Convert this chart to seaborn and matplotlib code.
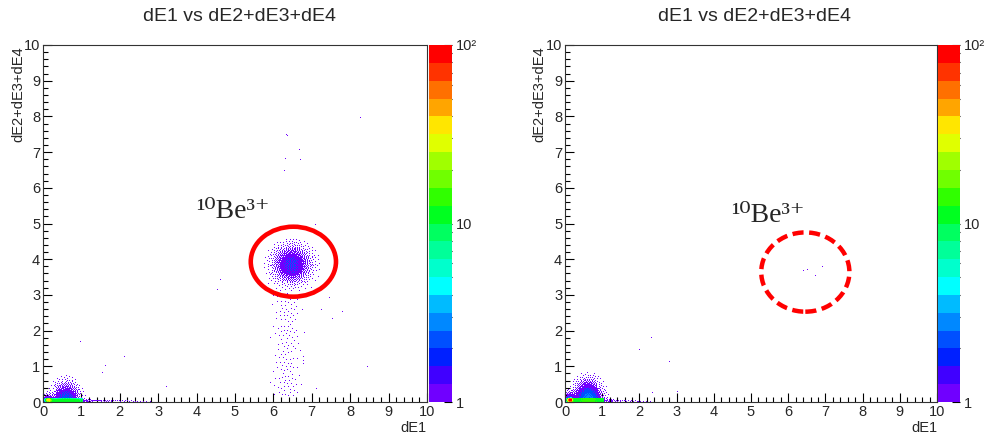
import math
import numpy as np
import pandas as pd
import matplotlib
matplotlib.use("Agg")
import matplotlib.pyplot as plt
import seaborn as sns
from matplotlib.colors import ListedColormap, LogNorm
from matplotlib.patches import Ellipse
from matplotlib.ticker import MultipleLocator, FixedLocator, FixedFormatter, NullFormatter

sns.set_theme(style="white")
plt.rcParams["font.family"] = ["Liberation Sans", "DejaVu Sans"]

# ---------------- text ----------------
TITLE = "dE1 vs dE2+dE3+dE4"
X_LABEL = "dE1"
Y_LABEL = "dE2+dE3+dE4"
ANNOT = "¹⁰Be³⁺"
CBAR_TICKS = [1, 10, 100]
CBAR_LABELS = ["1", "10", "10²"]

# ROOT palette (20 contour levels, bottom -> top)
PALETTE = ["#7000ff", "#4000ff", "#0020ff", "#0050ff", "#0088ff", "#00bbff",
           "#00ffff", "#00ffcc", "#00ff99", "#00ff60", "#00ff20", "#30ff00",
           "#70ff00", "#a0ff00", "#e0ff00", "#ffe600", "#ffa500", "#ff7000",
           "#ff3300", "#ff0000"]

# histogram binning (0..10 in 400 bins, as in the picture)
N_BINS = 400
RANGE = (0.0, 10.0)

# ---------------- event clusters ----------------
# kind, centre/origin x, centre/origin y, spread x, spread y, number of events
left_kind = ["gauss", "strip", "half", "box", "gauss", "half", "exp"]
left_cx = [6.48, 6.35, 0.60, 0.15, 0.13, 0.12, 1.05]
left_cy = [3.85, 0.10, 0.00, 0.00, 0.05, 0.00, 0.00]
left_sx = [0.27, 0.20, 0.19, 0.90, 0.04, 0.09, 1.00]
left_sy = [0.29, 2.90, 0.28, 0.09, 0.03, 0.10, 0.06]
left_n = [1200, 170, 600, 1200, 500, 120, 70]

# isolated single events (dE1, dE2+dE3+dE4)
left_out_x = [8.26, 6.69, 6.33, 6.36, 6.69, 6.68, 6.32, 6.72, 6.48, 6.30, 4.61, 4.54,
              4.24, 1.79, 0.99, 2.11, 1.64, 1.53, 3.22, 8.43, 8.46, 7.45, 7.50, 7.73,
              7.78, 7.54, 7.26, 7.08, 7.11, 6.78, 6.78]
left_out_y = [7.95, 7.80, 7.48, 7.45, 7.34, 7.06, 6.82, 6.80, 6.64, 6.48, 3.44, 3.16,
              2.44, 2.22, 1.69, 1.25, 1.01, 0.85, 0.43, 1.57, 0.99, 2.94, 2.92, 2.67,
              2.53, 2.34, 2.58, 4.96, 0.38, 1.26, 1.16]

right_kind = ["half", "box", "gauss", "half", "exp"]
right_cx = [0.62, 0.15, 0.13, 0.12, 1.05]
right_cy = [0.00, 0.00, 0.05, 0.00, 0.00]
right_sx = [0.20, 0.90, 0.04, 0.09, 0.80]
right_sy = [0.30, 0.10, 0.03, 0.13, 0.06]
right_n = [1000, 1500, 1400, 180, 45]

right_out_x = [2.31, 2.33, 2.02, 2.82, 2.28, 6.41, 6.51, 6.90, 6.74, 0.91, 3.00, 2.37]
right_out_y = [2.16, 1.82, 1.46, 1.13, 0.82, 3.68, 3.72, 3.79, 3.53, 0.71, 0.29, 0.25]


# ---------------- expected bin contents -> integer counts ----------------
EDGES = np.linspace(RANGE[0], RANGE[1], N_BINS + 1)
CENTERS = 0.5 * (EDGES[:-1] + EDGES[1:])
_erf = np.vectorize(math.erf)


def cdf(kind, c, s, e):
    if kind == "gauss":
        return 0.5 * (1.0 + _erf((e - c) / (s * math.sqrt(2.0))))
    if kind == "half":
        return np.where(e > c, _erf(np.maximum(e - c, 0) / (s * math.sqrt(2.0))), 0.0)
    if kind == "uniform":
        return np.clip((e - c) / s, 0.0, 1.0)
    if kind == "exp":
        return np.where(e > c, 1.0 - np.exp(-np.maximum(e - c, 0) / s), 0.0)
    raise ValueError(kind)


AXIS_KINDS = {"gauss": ("gauss", "gauss"), "half": ("gauss", "half"),
              "box": ("uniform", "uniform"), "strip": ("gauss", "uniform"),
              "exp": ("exp", "uniform")}


def expected_grid(kinds, cxs, cys, sxs, sys_, ns):
    grid = np.zeros((N_BINS, N_BINS))
    for kd, cx, cy, sx, sy, n in zip(kinds, cxs, cys, sxs, sys_, ns):
        kx, ky = AXIS_KINDS[kd]
        px = np.diff(cdf(kx, cx, sx, EDGES))
        py = np.diff(cdf(ky, cy, sy, EDGES))
        grid += n * np.outer(py, px)
    return grid


def to_counts(grid):
    """Error-diffusion rounding of the expected contents to whole events."""
    a = grid.tolist()
    out = [[0] * N_BINS for _ in range(N_BINS)]
    for j in range(N_BINS - 1, -1, -1):
        fwd = (j % 2 == 0)
        order = range(N_BINS) if fwd else range(N_BINS - 1, -1, -1)
        d = 1 if fwd else -1
        row = a[j]
        nxt = a[j - 1] if j > 0 else None
        for i in order:
            v = row[i]
            if v == 0.0:
                continue
            q = int(math.floor(v + 0.5))
            if q < 0:
                q = 0
            out[j][i] = q
            err = v - q
            if 0 <= i + d < N_BINS:
                row[i + d] += err * 7 / 16
            if nxt is not None:
                if 0 <= i - d < N_BINS:
                    nxt[i - d] += err * 3 / 16
                nxt[i] += err * 5 / 16
                if 0 <= i + d < N_BINS:
                    nxt[i + d] += err * 1 / 16
    return np.array(out)


def build_frame(kinds, cxs, cys, sxs, sys_, ns, ox, oy):
    counts = to_counts(expected_grid(kinds, cxs, cys, sxs, sys_, ns))
    iy, ix = np.nonzero(counts)
    x = np.concatenate([CENTERS[ix], np.asarray(ox, float)])
    y = np.concatenate([CENTERS[iy], np.asarray(oy, float)])
    w = np.concatenate([counts[iy, ix], np.ones(len(ox))])
    return pd.DataFrame({"dE1": x, "dEsum": y, "w": w})


left_df = build_frame(left_kind, left_cx, left_cy, left_sx, left_sy, left_n,
                      left_out_x, left_out_y)
right_df = build_frame(right_kind, right_cx, right_cy, right_sx, right_sy, right_n,
                       right_out_x, right_out_y)

W, H = 987, 441
fig = plt.figure(figsize=(W / 100, H / 100), dpi=100)

cmap = ListedColormap(PALETTE)
cmap.set_over(PALETTE[-1])


def px_rect(x0, x1, y_top, y_bot):
    return [x0 / W, 1 - y_bot / H, (x1 - x0) / W, (y_bot - y_top) / H]


panels = [
    dict(df=left_df, ax=px_rect(43, 427, 45, 402), cax=px_rect(429, 452, 45, 402),
         title_x=240, ylab_x=18, annot=(4.0, 5.15)),
    dict(df=right_df, ax=px_rect(565, 937, 45, 402), cax=px_rect(938, 960, 45, 402),
         title_x=755, ylab_x=539, annot=(4.46, 5.03)),
]

for i, p in enumerate(panels):
    ax = fig.add_axes(p["ax"])
    cax = fig.add_axes(p["cax"])
    sns.histplot(data=p["df"], x="dE1", y="dEsum", weights="w", bins=N_BINS,
                 binrange=(RANGE, RANGE), ax=ax, cbar=False)
    mesh = ax.collections[-1]
    mesh.set_cmap(cmap)
    mesh.set_norm(LogNorm(vmin=1, vmax=100))

    ax.set_xlim(*RANGE)
    ax.set_ylim(*RANGE)
    ax.set_xlabel("")
    ax.set_ylabel("")
    ax.xaxis.set_major_locator(MultipleLocator(1))
    ax.xaxis.set_minor_locator(MultipleLocator(0.2))
    ax.yaxis.set_major_locator(MultipleLocator(1))
    ax.yaxis.set_minor_locator(MultipleLocator(0.2))
    ax.tick_params(which="both", direction="in", bottom=True, left=True,
                   top=False, right=False, color="black", width=0.8)
    ax.tick_params(which="major", length=6.5, labelsize=10.5, pad=2)
    ax.tick_params(which="minor", length=3.6)
    for s in ax.spines.values():
        s.set_color("#333333")
        s.set_linewidth(0.8)
    ax.set_facecolor("white")

    cb = fig.colorbar(mesh, cax=cax)
    cb.outline.set_visible(False)
    cax.yaxis.set_major_locator(FixedLocator(CBAR_TICKS))
    cax.yaxis.set_major_formatter(FixedFormatter(CBAR_LABELS))
    cax.yaxis.set_minor_formatter(NullFormatter())
    cax.tick_params(which="both", direction="in", right=True, left=False,
                    color="black", width=0.8, labelsize=10.5, pad=3)
    cax.tick_params(which="major", length=6)
    cax.tick_params(which="minor", length=4.5)

    fig.text(p["title_x"] / W, 1 - 16.5 / H, TITLE, ha="center", va="center",
             fontsize=14)
    fig.text((p["ax"][0] + p["ax"][2]), 1 - 428 / H, X_LABEL, ha="right",
             va="center", fontsize=10.5)
    fig.text(p["ylab_x"] / W, 1 - 46 / H, Y_LABEL, rotation=90, ha="center",
             va="top", fontsize=10.5)

    ax.text(p["annot"][0], p["annot"][1], ANNOT, ha="left", va="baseline",
            fontsize=20, family=["Liberation Serif", "DejaVu Serif"])

    if i == 0:
        ax.add_patch(Ellipse((6.52, 3.93), 2.22, 1.96, fill=False,
                             ec="#ff0000", lw=3.3))
    else:
        ax.add_patch(Ellipse((6.46, 3.64), 2.37, 2.22, fill=False,
                             ec="#ff0000", lw=3.2, ls=(0, (2.5, 1.25))))

fig.savefig("out.png", dpi=100, facecolor="white")
